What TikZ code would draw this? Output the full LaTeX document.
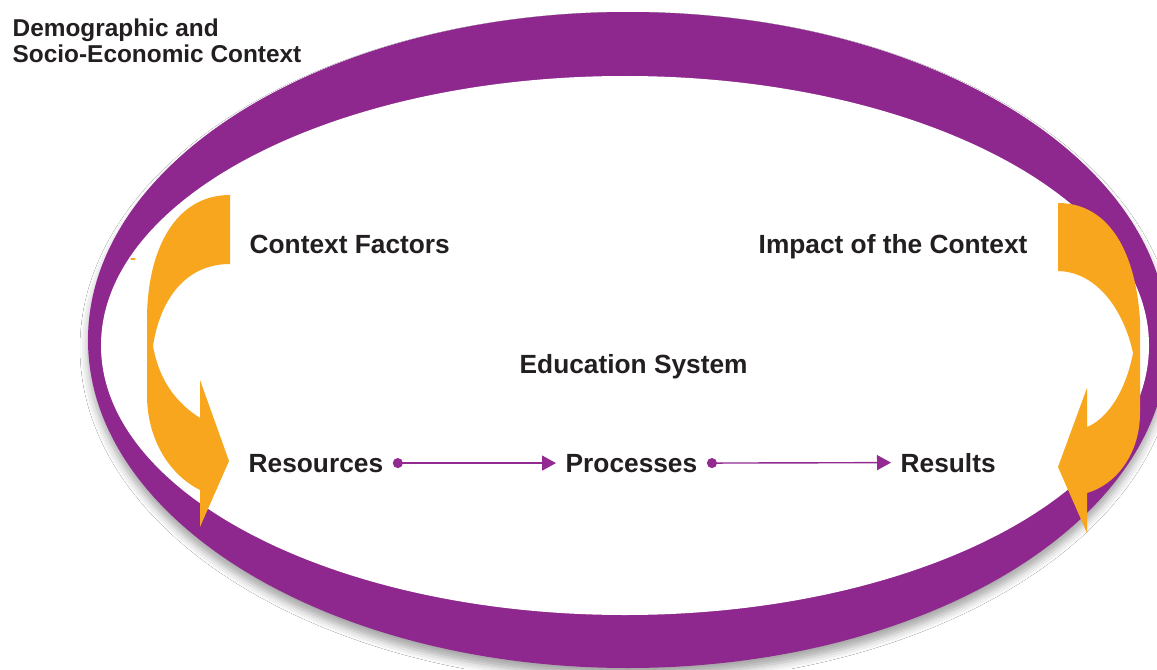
\documentclass[tikz,border=0pt]{standalone}
\usepackage{fontspec}
\setmainfont{Liberation Sans}
\usetikzlibrary{arrows.meta,shadows.blur}

\definecolor{ringpurple}{RGB}{142,39,142}
\definecolor{linkpurple}{RGB}{146,42,146}
\definecolor{floworange}{RGB}{247,166,29}
\definecolor{textdark}{RGB}{35,31,32}

\tikzset{
  label/.style={anchor=base west,inner sep=0pt,text=textdark,
    font=\fontsize{7.48}{9}\selectfont\bfseries},
  stagebox/.style={label,inner xsep=0.09cm},
  link/.style={linkpurple,line width=0.4pt,
    {Circle[length=0.1cm]}-{Triangle[length=0.14cm,width=0.15cm]}}
}

\begin{document}
\begin{tikzpicture}[x=1cm,y=1cm,line cap=round,line join=round]
        \clip (0,0) rectangle (11.57,6.69);
        \fill[white] (0,0) rectangle (11.57,6.69);

        % Anillo del contexto (elipse exterior con sombra, hueco blanco)
        \fill[ringpurple,blur shadow={shadow xshift=0pt,shadow yshift=-0.08cm,
            shadow blur radius=0.08cm,shadow opacity=35}]
            (6.28,3.29) ellipse [x radius=5.40,y radius=3.28];
        \fill[white] (6.25,3.235) ellipse [x radius=5.24,y radius=2.695];

        % Flecha izquierda: factores de contexto
        \fill[floworange] (2.30,4.74) .. controls (1.75,4.74) and (1.47,4.19) .. (1.47,3.49)
            -- (1.47,2.74) .. controls (1.47,2.29) and (1.70,1.94) .. (2.00,1.79)
            -- (2.00,1.42) -- (2.29,2.08) -- (2.00,2.89) -- (2.00,2.51)
            .. controls (1.80,2.64) and (1.60,2.84) .. (1.53,3.23)
            .. controls (1.60,3.69) and (1.85,4.05) .. (2.30,4.05) -- cycle;
        \draw[floworange,line width=0.3pt] (1.31,4.10) -- (1.35,4.10);

        % Flecha derecha: impacto del contexto
        \fill[floworange] (10.58,4.66) .. controls (11.05,4.66) and (11.35,4.24) .. (11.40,3.49)
            -- (11.40,2.56) .. controls (11.40,2.14) and (11.15,1.84) .. (10.87,1.76)
            -- (10.87,1.36) -- (10.58,2.02) -- (10.87,2.81) -- (10.87,2.42)
            .. controls (11.05,2.49) and (11.25,2.74) .. (11.33,3.16)
            .. controls (11.25,3.54) and (11.00,3.97) .. (10.58,3.98) -- cycle;

        % Textos
        \node[label,align=left,font=\fontsize{6.94}{7.68}\selectfont\bfseries]
            (context) at (0.12,6.06) {Demographic and\\Socio-Economic Context};
        \node[label] (factors) at (2.49,4.16) {Context Factors};
        \node[label] (impact) at (7.58,4.16) {Impact of the Context};
        \node[label] (system) at (5.19,2.96) {Education System};

        % Cadena recursos - procesos - resultados
        \node[stagebox] (resources) at (2.39,1.97) {Resources};
        \node[stagebox] (processes) at (5.56,1.97) {Processes};
        \node[stagebox] (results) at (8.91,1.97) {Results};
        \draw[link] (resources.east) -- (processes.west);
        \draw[link] (processes.east) -- (results.west);
    \end{tikzpicture}
\end{document}
